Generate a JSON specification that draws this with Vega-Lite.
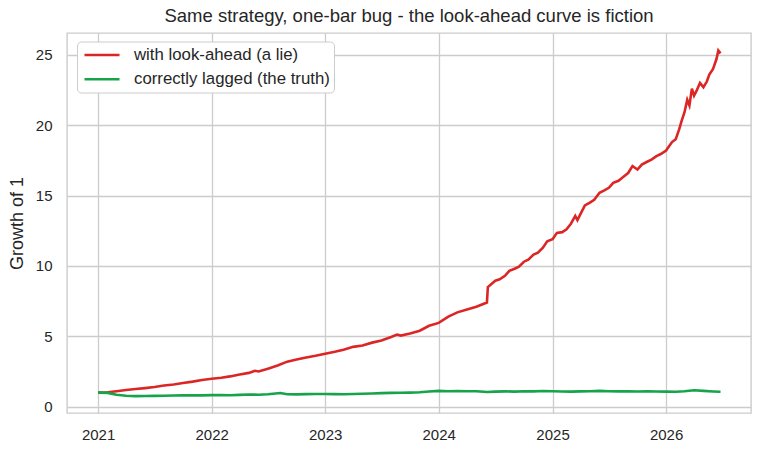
{
  "$schema": "https://vega.github.io/schema/vega-lite/v6.json",
  "description": "Look-ahead bug vs correctly lagged equity curve.",
  "autosize": "none",
  "width": 684,
  "height": 380,
  "padding": {"left": 67, "top": 33, "right": 10, "bottom": 42},
  "background": "white",
  "config": {
    "font": "Liberation Sans",
    "view": {"stroke": "#cccccc", "strokeWidth": 1.4},
    "axis": {
      "grid": true,
      "gridColor": "#cccccc",
      "gridWidth": 1.3,
      "domain": false,
      "ticks": false,
      "labelColor": "#262626",
      "labelFontSize": 15,
      "titleColor": "#262626",
      "titleFontSize": 18,
      "titleFontWeight": "normal"
    }
  },
  "title": {
    "text": "Same strategy, one-bar bug - the look-ahead curve is fiction",
    "fontSize": 18.5,
    "fontWeight": "normal",
    "color": "#262626",
    "anchor": "middle",
    "offset": 8
  },
  "data": {
    "values": [
      {"date": "2021-01-01", "series": "with look-ahead (a lie)", "value": 1.00},
      {"date": "2021-02-01", "series": "with look-ahead (a lie)", "value": 1.02},
      {"date": "2021-03-01", "series": "with look-ahead (a lie)", "value": 1.10},
      {"date": "2021-04-01", "series": "with look-ahead (a lie)", "value": 1.18},
      {"date": "2021-05-01", "series": "with look-ahead (a lie)", "value": 1.25},
      {"date": "2021-06-01", "series": "with look-ahead (a lie)", "value": 1.32},
      {"date": "2021-07-01", "series": "with look-ahead (a lie)", "value": 1.40},
      {"date": "2021-08-01", "series": "with look-ahead (a lie)", "value": 1.50},
      {"date": "2021-09-01", "series": "with look-ahead (a lie)", "value": 1.58},
      {"date": "2021-10-01", "series": "with look-ahead (a lie)", "value": 1.68},
      {"date": "2021-11-01", "series": "with look-ahead (a lie)", "value": 1.78},
      {"date": "2021-12-01", "series": "with look-ahead (a lie)", "value": 1.90},
      {"date": "2022-01-01", "series": "with look-ahead (a lie)", "value": 1.98},
      {"date": "2022-02-01", "series": "with look-ahead (a lie)", "value": 2.05},
      {"date": "2022-03-01", "series": "with look-ahead (a lie)", "value": 2.15},
      {"date": "2022-04-01", "series": "with look-ahead (a lie)", "value": 2.28},
      {"date": "2022-05-01", "series": "with look-ahead (a lie)", "value": 2.40},
      {"date": "2022-05-20", "series": "with look-ahead (a lie)", "value": 2.55},
      {"date": "2022-06-01", "series": "with look-ahead (a lie)", "value": 2.50},
      {"date": "2022-07-01", "series": "with look-ahead (a lie)", "value": 2.70},
      {"date": "2022-08-01", "series": "with look-ahead (a lie)", "value": 2.92},
      {"date": "2022-09-01", "series": "with look-ahead (a lie)", "value": 3.20},
      {"date": "2022-10-01", "series": "with look-ahead (a lie)", "value": 3.35},
      {"date": "2022-11-01", "series": "with look-ahead (a lie)", "value": 3.50},
      {"date": "2022-12-01", "series": "with look-ahead (a lie)", "value": 3.62},
      {"date": "2023-01-01", "series": "with look-ahead (a lie)", "value": 3.76},
      {"date": "2023-02-01", "series": "with look-ahead (a lie)", "value": 3.90},
      {"date": "2023-03-01", "series": "with look-ahead (a lie)", "value": 4.05},
      {"date": "2023-04-01", "series": "with look-ahead (a lie)", "value": 4.25},
      {"date": "2023-05-01", "series": "with look-ahead (a lie)", "value": 4.35},
      {"date": "2023-06-01", "series": "with look-ahead (a lie)", "value": 4.55},
      {"date": "2023-07-01", "series": "with look-ahead (a lie)", "value": 4.70},
      {"date": "2023-08-01", "series": "with look-ahead (a lie)", "value": 4.95},
      {"date": "2023-08-20", "series": "with look-ahead (a lie)", "value": 5.12},
      {"date": "2023-09-01", "series": "with look-ahead (a lie)", "value": 5.05},
      {"date": "2023-10-01", "series": "with look-ahead (a lie)", "value": 5.20},
      {"date": "2023-11-01", "series": "with look-ahead (a lie)", "value": 5.40},
      {"date": "2023-12-01", "series": "with look-ahead (a lie)", "value": 5.75},
      {"date": "2024-01-01", "series": "with look-ahead (a lie)", "value": 5.95},
      {"date": "2024-02-01", "series": "with look-ahead (a lie)", "value": 6.40},
      {"date": "2024-03-01", "series": "with look-ahead (a lie)", "value": 6.70},
      {"date": "2024-04-01", "series": "with look-ahead (a lie)", "value": 6.90},
      {"date": "2024-05-01", "series": "with look-ahead (a lie)", "value": 7.10},
      {"date": "2024-06-04", "series": "with look-ahead (a lie)", "value": 7.40},
      {"date": "2024-06-07", "series": "with look-ahead (a lie)", "value": 8.50},
      {"date": "2024-07-01", "series": "with look-ahead (a lie)", "value": 8.95},
      {"date": "2024-07-15", "series": "with look-ahead (a lie)", "value": 9.05},
      {"date": "2024-08-01", "series": "with look-ahead (a lie)", "value": 9.30},
      {"date": "2024-08-15", "series": "with look-ahead (a lie)", "value": 9.65},
      {"date": "2024-09-01", "series": "with look-ahead (a lie)", "value": 9.80},
      {"date": "2024-09-15", "series": "with look-ahead (a lie)", "value": 9.95},
      {"date": "2024-10-01", "series": "with look-ahead (a lie)", "value": 10.30},
      {"date": "2024-10-15", "series": "with look-ahead (a lie)", "value": 10.45},
      {"date": "2024-11-01", "series": "with look-ahead (a lie)", "value": 10.80},
      {"date": "2024-11-15", "series": "with look-ahead (a lie)", "value": 10.95},
      {"date": "2024-12-01", "series": "with look-ahead (a lie)", "value": 11.30},
      {"date": "2024-12-15", "series": "with look-ahead (a lie)", "value": 11.75},
      {"date": "2025-01-01", "series": "with look-ahead (a lie)", "value": 11.90},
      {"date": "2025-01-15", "series": "with look-ahead (a lie)", "value": 12.35},
      {"date": "2025-02-01", "series": "with look-ahead (a lie)", "value": 12.40},
      {"date": "2025-02-15", "series": "with look-ahead (a lie)", "value": 12.60},
      {"date": "2025-03-01", "series": "with look-ahead (a lie)", "value": 13.00},
      {"date": "2025-03-15", "series": "with look-ahead (a lie)", "value": 13.55},
      {"date": "2025-03-22", "series": "with look-ahead (a lie)", "value": 13.25},
      {"date": "2025-04-01", "series": "with look-ahead (a lie)", "value": 13.70},
      {"date": "2025-04-15", "series": "with look-ahead (a lie)", "value": 14.30},
      {"date": "2025-05-01", "series": "with look-ahead (a lie)", "value": 14.50},
      {"date": "2025-05-15", "series": "with look-ahead (a lie)", "value": 14.70},
      {"date": "2025-06-01", "series": "with look-ahead (a lie)", "value": 15.20},
      {"date": "2025-06-15", "series": "with look-ahead (a lie)", "value": 15.35},
      {"date": "2025-07-01", "series": "with look-ahead (a lie)", "value": 15.55},
      {"date": "2025-07-15", "series": "with look-ahead (a lie)", "value": 15.90},
      {"date": "2025-08-01", "series": "with look-ahead (a lie)", "value": 16.05},
      {"date": "2025-08-15", "series": "with look-ahead (a lie)", "value": 16.30},
      {"date": "2025-09-01", "series": "with look-ahead (a lie)", "value": 16.60},
      {"date": "2025-09-15", "series": "with look-ahead (a lie)", "value": 17.10},
      {"date": "2025-10-01", "series": "with look-ahead (a lie)", "value": 16.85},
      {"date": "2025-10-15", "series": "with look-ahead (a lie)", "value": 17.20},
      {"date": "2025-11-01", "series": "with look-ahead (a lie)", "value": 17.40},
      {"date": "2025-11-15", "series": "with look-ahead (a lie)", "value": 17.55},
      {"date": "2025-12-01", "series": "with look-ahead (a lie)", "value": 17.80},
      {"date": "2025-12-15", "series": "with look-ahead (a lie)", "value": 17.95},
      {"date": "2026-01-01", "series": "with look-ahead (a lie)", "value": 18.20},
      {"date": "2026-01-20", "series": "with look-ahead (a lie)", "value": 18.80},
      {"date": "2026-02-01", "series": "with look-ahead (a lie)", "value": 19.00},
      {"date": "2026-02-12", "series": "with look-ahead (a lie)", "value": 19.70},
      {"date": "2026-02-20", "series": "with look-ahead (a lie)", "value": 20.30},
      {"date": "2026-03-01", "series": "with look-ahead (a lie)", "value": 20.90},
      {"date": "2026-03-10", "series": "with look-ahead (a lie)", "value": 21.80},
      {"date": "2026-03-17", "series": "with look-ahead (a lie)", "value": 21.40},
      {"date": "2026-03-25", "series": "with look-ahead (a lie)", "value": 22.60},
      {"date": "2026-04-01", "series": "with look-ahead (a lie)", "value": 22.10},
      {"date": "2026-04-08", "series": "with look-ahead (a lie)", "value": 22.40},
      {"date": "2026-04-20", "series": "with look-ahead (a lie)", "value": 23.00},
      {"date": "2026-05-01", "series": "with look-ahead (a lie)", "value": 22.70},
      {"date": "2026-05-12", "series": "with look-ahead (a lie)", "value": 23.10},
      {"date": "2026-05-20", "series": "with look-ahead (a lie)", "value": 23.60},
      {"date": "2026-06-01", "series": "with look-ahead (a lie)", "value": 24.00},
      {"date": "2026-06-12", "series": "with look-ahead (a lie)", "value": 24.70},
      {"date": "2026-06-18", "series": "with look-ahead (a lie)", "value": 25.30},
      {"date": "2026-06-25", "series": "with look-ahead (a lie)", "value": 25.10},
      {"date": "2021-01-01", "series": "correctly lagged (the truth)", "value": 1.00},
      {"date": "2021-02-01", "series": "correctly lagged (the truth)", "value": 0.98},
      {"date": "2021-03-01", "series": "correctly lagged (the truth)", "value": 0.85},
      {"date": "2021-04-01", "series": "correctly lagged (the truth)", "value": 0.78},
      {"date": "2021-05-01", "series": "correctly lagged (the truth)", "value": 0.75},
      {"date": "2021-06-01", "series": "correctly lagged (the truth)", "value": 0.76},
      {"date": "2021-07-01", "series": "correctly lagged (the truth)", "value": 0.77},
      {"date": "2021-08-01", "series": "correctly lagged (the truth)", "value": 0.78},
      {"date": "2021-09-01", "series": "correctly lagged (the truth)", "value": 0.79},
      {"date": "2021-10-01", "series": "correctly lagged (the truth)", "value": 0.80},
      {"date": "2021-11-01", "series": "correctly lagged (the truth)", "value": 0.81},
      {"date": "2021-12-01", "series": "correctly lagged (the truth)", "value": 0.80},
      {"date": "2022-01-01", "series": "correctly lagged (the truth)", "value": 0.82},
      {"date": "2022-02-01", "series": "correctly lagged (the truth)", "value": 0.83},
      {"date": "2022-03-01", "series": "correctly lagged (the truth)", "value": 0.81},
      {"date": "2022-04-01", "series": "correctly lagged (the truth)", "value": 0.84},
      {"date": "2022-05-01", "series": "correctly lagged (the truth)", "value": 0.86},
      {"date": "2022-06-01", "series": "correctly lagged (the truth)", "value": 0.85},
      {"date": "2022-07-01", "series": "correctly lagged (the truth)", "value": 0.88},
      {"date": "2022-08-10", "series": "correctly lagged (the truth)", "value": 0.97},
      {"date": "2022-09-01", "series": "correctly lagged (the truth)", "value": 0.88},
      {"date": "2022-10-01", "series": "correctly lagged (the truth)", "value": 0.87},
      {"date": "2022-11-01", "series": "correctly lagged (the truth)", "value": 0.89},
      {"date": "2022-12-01", "series": "correctly lagged (the truth)", "value": 0.90},
      {"date": "2023-01-01", "series": "correctly lagged (the truth)", "value": 0.90},
      {"date": "2023-02-01", "series": "correctly lagged (the truth)", "value": 0.89},
      {"date": "2023-03-01", "series": "correctly lagged (the truth)", "value": 0.88},
      {"date": "2023-04-01", "series": "correctly lagged (the truth)", "value": 0.90},
      {"date": "2023-05-01", "series": "correctly lagged (the truth)", "value": 0.92},
      {"date": "2023-06-01", "series": "correctly lagged (the truth)", "value": 0.94},
      {"date": "2023-07-01", "series": "correctly lagged (the truth)", "value": 0.96},
      {"date": "2023-08-01", "series": "correctly lagged (the truth)", "value": 0.98},
      {"date": "2023-09-01", "series": "correctly lagged (the truth)", "value": 0.99},
      {"date": "2023-10-01", "series": "correctly lagged (the truth)", "value": 1.00},
      {"date": "2023-11-01", "series": "correctly lagged (the truth)", "value": 1.02},
      {"date": "2023-12-01", "series": "correctly lagged (the truth)", "value": 1.08},
      {"date": "2024-01-01", "series": "correctly lagged (the truth)", "value": 1.12},
      {"date": "2024-02-01", "series": "correctly lagged (the truth)", "value": 1.10},
      {"date": "2024-03-01", "series": "correctly lagged (the truth)", "value": 1.11},
      {"date": "2024-04-01", "series": "correctly lagged (the truth)", "value": 1.10},
      {"date": "2024-05-01", "series": "correctly lagged (the truth)", "value": 1.10},
      {"date": "2024-06-05", "series": "correctly lagged (the truth)", "value": 1.04},
      {"date": "2024-07-01", "series": "correctly lagged (the truth)", "value": 1.07},
      {"date": "2024-08-01", "series": "correctly lagged (the truth)", "value": 1.09},
      {"date": "2024-09-01", "series": "correctly lagged (the truth)", "value": 1.07},
      {"date": "2024-10-01", "series": "correctly lagged (the truth)", "value": 1.10},
      {"date": "2024-11-01", "series": "correctly lagged (the truth)", "value": 1.09},
      {"date": "2024-12-01", "series": "correctly lagged (the truth)", "value": 1.11},
      {"date": "2025-01-01", "series": "correctly lagged (the truth)", "value": 1.10},
      {"date": "2025-02-01", "series": "correctly lagged (the truth)", "value": 1.08},
      {"date": "2025-03-01", "series": "correctly lagged (the truth)", "value": 1.07},
      {"date": "2025-04-01", "series": "correctly lagged (the truth)", "value": 1.09},
      {"date": "2025-05-01", "series": "correctly lagged (the truth)", "value": 1.10},
      {"date": "2025-06-01", "series": "correctly lagged (the truth)", "value": 1.12},
      {"date": "2025-07-01", "series": "correctly lagged (the truth)", "value": 1.10},
      {"date": "2025-08-01", "series": "correctly lagged (the truth)", "value": 1.09},
      {"date": "2025-09-01", "series": "correctly lagged (the truth)", "value": 1.10},
      {"date": "2025-10-01", "series": "correctly lagged (the truth)", "value": 1.08},
      {"date": "2025-11-01", "series": "correctly lagged (the truth)", "value": 1.09},
      {"date": "2025-12-01", "series": "correctly lagged (the truth)", "value": 1.08},
      {"date": "2026-01-01", "series": "correctly lagged (the truth)", "value": 1.07},
      {"date": "2026-02-01", "series": "correctly lagged (the truth)", "value": 1.06},
      {"date": "2026-03-01", "series": "correctly lagged (the truth)", "value": 1.09},
      {"date": "2026-04-01", "series": "correctly lagged (the truth)", "value": 1.17},
      {"date": "2026-05-01", "series": "correctly lagged (the truth)", "value": 1.12},
      {"date": "2026-06-01", "series": "correctly lagged (the truth)", "value": 1.08},
      {"date": "2026-06-25", "series": "correctly lagged (the truth)", "value": 1.06}
    ]
  },
  "mark": {"type": "line", "strokeWidth": 2.6, "clip": true},
  "encoding": {
    "x": {
      "field": "date",
      "type": "temporal",
      "title": null,
      "scale": {"domain": ["2020-09-23", "2026-10-01"], "nice": false},
      "axis": {"format": "%Y", "tickCount": {"interval": "year", "step": 1}, "labelPadding": 14}
    },
    "y": {
      "field": "value",
      "type": "quantitative",
      "title": "Growth of 1",
      "scale": {"domain": [-0.45, 26.55], "nice": false, "zero": false},
      "axis": {"values": [0, 5, 10, 15, 20, 25], "labelPadding": 15, "titlePadding": 9}
    },
    "color": {
      "field": "series",
      "type": "nominal",
      "scale": {
        "domain": ["with look-ahead (a lie)", "correctly lagged (the truth)"],
        "range": ["#dc2626", "#16a34a"]
      },
      "legend": {
        "title": null,
        "orient": "none",
        "legendX": 10,
        "legendY": 8.5,
        "direction": "vertical",
        "symbolType": "M-0.75,0H3.625",
        "symbolSize": 256,
        "symbolStrokeWidth": 2.6,
        "labelFontSize": 16.8,
        "labelColor": "#262626",
        "labelLimit": 0,
        "labelOffset": 34,
        "rowPadding": 5.3,
        "padding": 4,
        "fillColor": "white",
        "strokeColor": "#cccccc",
        "cornerRadius": 4
      }
    }
  }
}
